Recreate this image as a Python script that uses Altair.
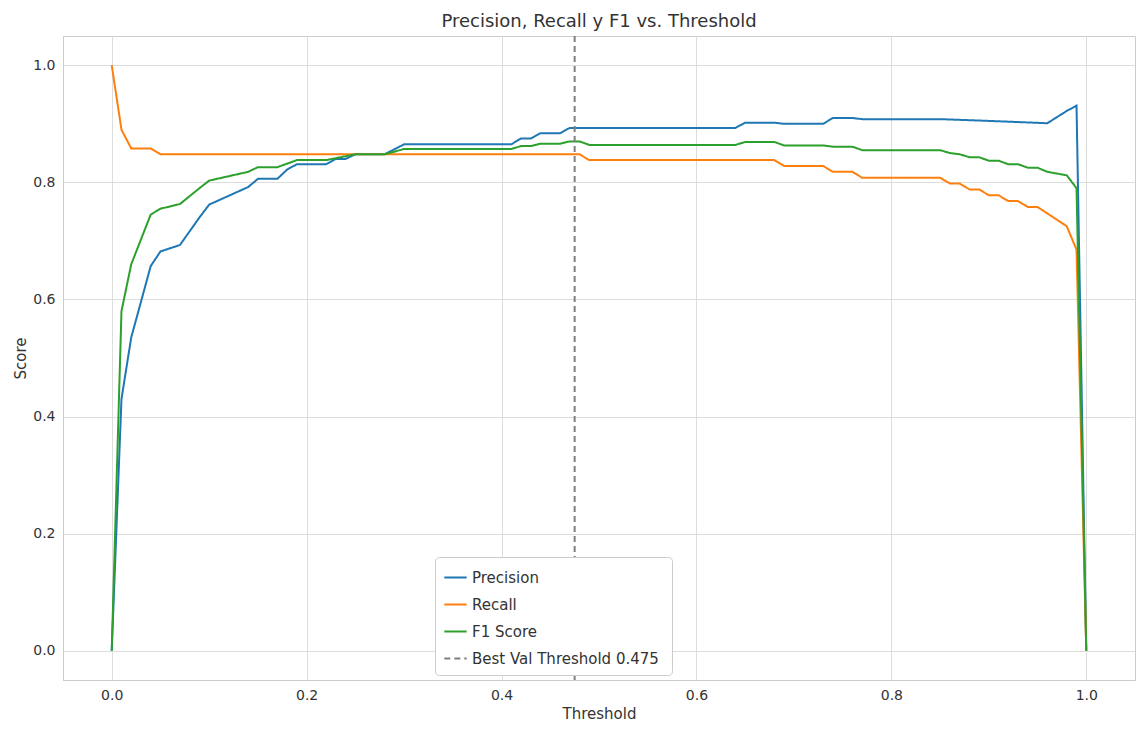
import altair as alt
import pandas as pd

prec_x = [0,0.01,0.02,0.04,0.05,0.07,0.09,0.10,0.14,0.15,0.17,0.18,0.19,0.22,0.23,0.24,0.25,0.28,0.30,0.41,0.42,0.43,0.44,0.46,0.47,0.64,0.65,0.68,0.69,0.73,0.74,0.76,0.77,0.85,0.90,0.93,0.96,0.98,0.99,1.0]
prec_y = [0,0.43,0.535,0.657,0.682,0.693,0.74,0.762,0.792,0.806,0.806,0.822,0.831,0.831,0.840,0.840,0.848,0.848,0.865,0.865,0.875,0.875,0.884,0.884,0.893,0.893,0.902,0.902,0.90,0.90,0.91,0.91,0.908,0.908,0.905,0.903,0.901,0.922,0.931,0.0]
rec_x = [0,0.01,0.02,0.04,0.05,0.48,0.49,0.68,0.69,0.73,0.74,0.76,0.77,0.85,0.86,0.87,0.88,0.89,0.90,0.91,0.92,0.93,0.94,0.95,0.98,0.99,1.0]
rec_y = [1.0,0.89,0.858,0.858,0.848,0.848,0.838,0.838,0.828,0.828,0.818,0.818,0.808,0.808,0.798,0.798,0.788,0.788,0.778,0.778,0.768,0.768,0.758,0.758,0.725,0.685,0.0]
f1_x = [0,0.01,0.02,0.04,0.05,0.07,0.09,0.10,0.14,0.15,0.17,0.19,0.22,0.25,0.28,0.30,0.41,0.42,0.43,0.44,0.46,0.47,0.48,0.49,0.64,0.65,0.68,0.69,0.73,0.74,0.76,0.77,0.85,0.86,0.87,0.88,0.89,0.90,0.91,0.92,0.93,0.94,0.95,0.96,0.98,0.99,1.0]
f1_y = [0,0.58,0.66,0.745,0.755,0.763,0.79,0.803,0.818,0.826,0.826,0.838,0.838,0.848,0.848,0.857,0.857,0.862,0.862,0.866,0.866,0.87,0.87,0.864,0.864,0.869,0.869,0.863,0.863,0.861,0.861,0.855,0.855,0.85,0.848,0.843,0.843,0.837,0.837,0.831,0.831,0.825,0.825,0.818,0.812,0.79,0.0]
best_threshold = 0.475

series = ["Precision", "Recall", "F1 Score", "Best Val Threshold  0.475"]
colors = ["#1f77b4", "#ff7f0e", "#2ca02c", "#7f7f7f"]
dashes = [[1, 0], [1, 0], [1, 0], [6, 4]]

rows = []
for name, xs, ys in [("Precision", prec_x, prec_y), ("Recall", rec_x, rec_y), ("F1 Score", f1_x, f1_y)]:
    for i, (a, b) in enumerate(zip(xs, ys)):
        rows.append({"t": a, "v": b, "s": name, "o": i})
df = pd.DataFrame(rows)
rule_df = pd.DataFrame({"t": [best_threshold], "s": [series[3]]})

color = alt.Color("s:N", scale=alt.Scale(domain=series, range=colors), title=None,
                  legend=alt.Legend(orient="none", legendX=372, legendY=521, labelFontSize=15,
                                    symbolType="stroke", symbolSize=500, symbolStrokeWidth=2,
                                    fillColor="white", strokeColor="#cccccc", padding=8,
                                    cornerRadius=4, labelColor="#333", rowPadding=6, labelLimit=400))
dash = alt.StrokeDash("s:N", scale=alt.Scale(domain=series, range=dashes), title=None)

xs = alt.Scale(domain=[-0.05, 1.05], nice=False, zero=False)
ys = alt.Scale(domain=[-0.05, 1.05], nice=False, zero=False)
xax = alt.Axis(values=[0, 0.2, 0.4, 0.6, 0.8, 1.0], format=".1f", title="Threshold",
               labelFontSize=14, titleFontSize=15, titleFontWeight="normal", labelPadding=8)
yax = alt.Axis(values=[0, 0.2, 0.4, 0.6, 0.8, 1.0], format=".1f", title="Score",
               labelFontSize=14, titleFontSize=15, titleFontWeight="normal", labelPadding=8)

lines = alt.Chart(df).mark_line(strokeWidth=2).encode(
    x=alt.X("t:Q", scale=xs, axis=xax), y=alt.Y("v:Q", scale=ys, axis=yax),
    color=color, strokeDash=dash, order="o:Q")
rule = alt.Chart(rule_df).mark_rule(strokeWidth=2).encode(
    x=alt.X("t:Q", scale=xs), color=color, strokeDash=dash)

chart = alt.layer(lines, rule).properties(
    width=1132, height=718,
    autosize=alt.AutoSizeParams(type="fit", contains="padding"),
    title=alt.Title("Precision, Recall y F1 vs. Threshold", fontSize=18, fontWeight="normal", color="#333"),
).configure(font="DejaVu Sans").configure_axis(
    gridColor="#dddddd", domainColor="#cccccc", tickSize=0,
    labelColor="#333", titleColor="#333"
).configure_view(stroke="#cccccc")

chart.save("out.html", embed_options={"renderer": "svg", "actions": False})
